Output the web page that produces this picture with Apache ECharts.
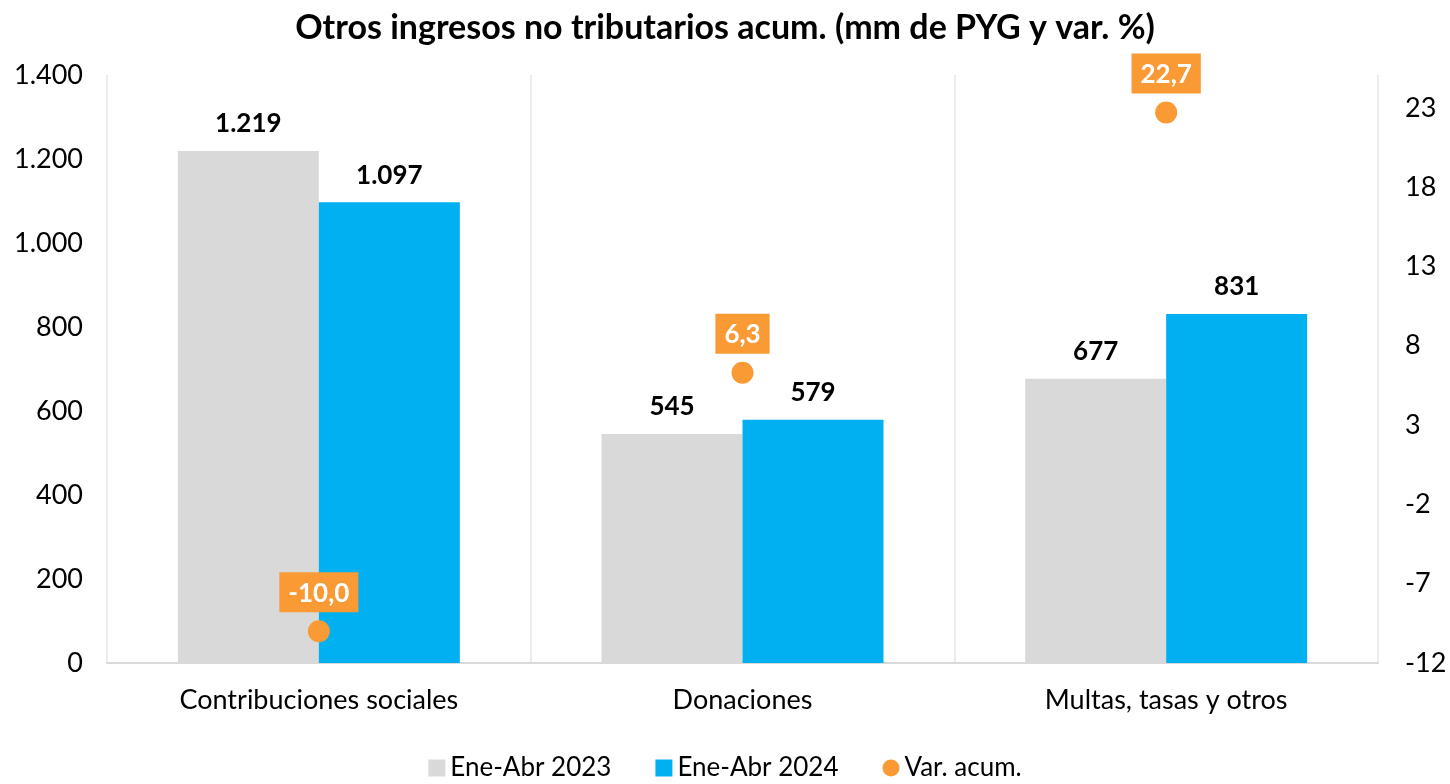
<!DOCTYPE html>
<html>
<head>
<meta charset="utf-8">
<script src="https://cdn.jsdelivr.net/npm/echarts@6/dist/echarts.min.js"></script>
<style>
    html, body { margin: 0; padding: 0; background: #ffffff; }
    #chart { width: 1450px; height: 784px; }
</style>
</head>
<body>
<div id="chart"></div>
<script>
    // datos
    var categories = ['Contribuciones sociales', 'Donaciones', 'Multas, tasas y otros'];
    var serie2023 = [1219, 545, 677];
    var serie2024 = [1097, 579, 831];
    var varAcum = [-10.0, 6.3, 22.7];

    // eje derecho: arranca en -12 con paso 5 (se desplaza para que los ticks caigan bien)
    var rightMin = -12;
    var rightMax = 25.07;

    function fmtMiles(v) {
        return String(Math.round(v)).replace(/\B(?=(\d{3})+(?!\d))/g, '.');
    }

    var FONT = 'Lato, "Open Sans", sans-serif';

    var myChart = echarts.init(document.getElementById('chart'));
    myChart.setOption({
        animation: false,
        textStyle: { fontFamily: FONT },
        title: {
            text: 'Otros ingresos no tributarios acum. (mm de PYG y var. %)',
            left: 'center',
            top: 6,
            textStyle: { fontSize: 34, fontWeight: 'bold', color: '#000', fontFamily: FONT }
        },
        legend: {
            bottom: -2,
            left: 'center',
            itemGap: 44,
            itemWidth: 17,
            itemHeight: 17,
            textStyle: { fontSize: 26, color: '#000', fontFamily: FONT },
            data: [
                { name: 'Ene-Abr 2023', icon: 'rect' },
                { name: 'Ene-Abr 2024', icon: 'rect' },
                { name: 'Var. acum.', icon: 'circle' }
            ]
        },
        grid: { left: 107, right: 72, top: 75, bottom: 121 },
        xAxis: {
            type: 'category',
            data: categories,
            axisLine: { lineStyle: { color: '#d9d9d9', width: 2 } },
            axisTick: { show: false },
            axisLabel: { fontSize: 27, color: '#000', margin: 24, fontFamily: FONT },
            splitLine: { show: true, lineStyle: { color: '#ececec', width: 2 } }
        },
        yAxis: [{
            type: 'value',
            min: 0,
            max: 1400,
            interval: 200,
            axisLine: { show: false },
            axisTick: { show: false },
            splitLine: { show: false },
            axisLabel: {
                fontSize: 27, color: '#000', margin: 24, fontFamily: FONT,
                formatter: fmtMiles
            }
        }, {
            type: 'value',
            min: 0,
            max: rightMax - rightMin,
            interval: 5,
            axisLine: { show: false },
            axisTick: { show: false },
            splitLine: { show: false },
            axisLabel: {
                fontSize: 27, color: '#000', margin: 27, fontFamily: FONT,
                formatter: function (v) {
                    if (v > 35.5) return '';
                    return String(Math.round(v + rightMin));
                }
            }
        }],
        series: [{
            name: 'Ene-Abr 2023',
            type: 'bar',
            data: serie2023,
            barWidth: 141,
            barGap: '0%',
            itemStyle: { color: '#d9d9d9' },
            label: {
                show: true, position: 'top', distance: 14,
                fontSize: 26, fontWeight: 'bold', color: '#000', fontFamily: FONT,
                formatter: function (p) { return fmtMiles(p.value); }
            }
        }, {
            name: 'Ene-Abr 2024',
            type: 'bar',
            data: serie2024,
            barWidth: 141,
            barGap: '0%',
            itemStyle: { color: '#00b0f0' },
            label: {
                show: true, position: 'top', distance: 14,
                fontSize: 26, fontWeight: 'bold', color: '#000', fontFamily: FONT,
                formatter: function (p) { return fmtMiles(p.value); }
            }
        }, {
            name: 'Var. acum.',
            type: 'scatter',
            yAxisIndex: 1,
            symbolSize: 22,
            z: 5,
            data: varAcum.map(function (v) { return v - rightMin; }),
            itemStyle: { color: '#fa9a35', opacity: 1 },
            label: {
                show: true, position: 'top', distance: 8,
                fontSize: 26, fontWeight: 'bold', color: '#fff', fontFamily: FONT,
                backgroundColor: '#fa9a35',
                padding: [8, 9, 6, 9],
                formatter: function (p) {
                    return varAcum[p.dataIndex].toFixed(1).replace('.', ',');
                }
            }
        }]
    });
</script>
</body>
</html>
